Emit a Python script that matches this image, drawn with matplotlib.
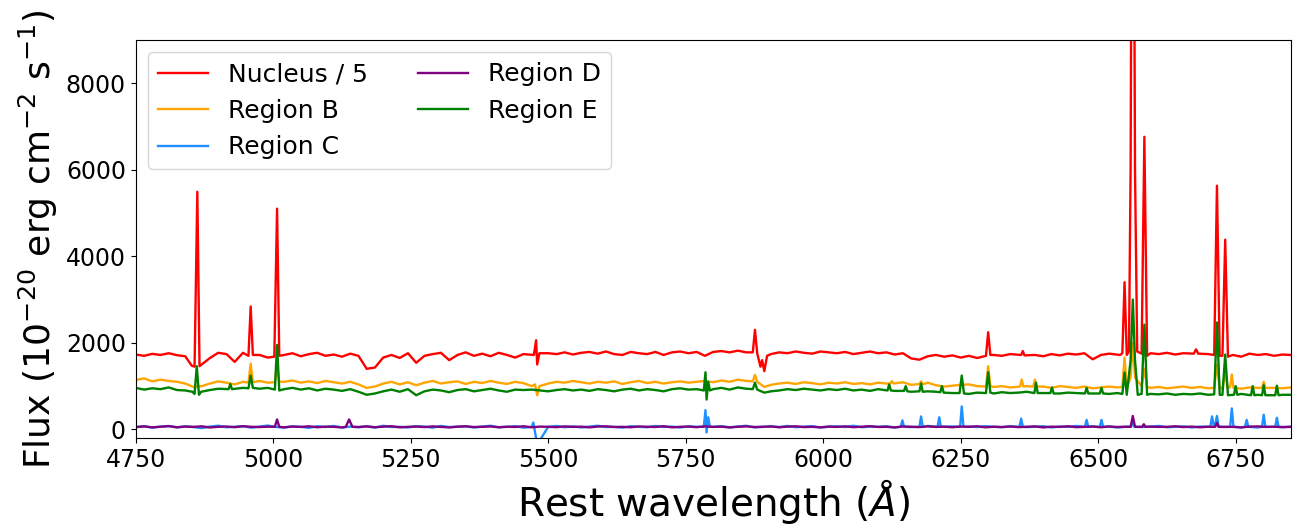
import numpy as np
import matplotlib
matplotlib.use("Agg")
import matplotlib.pyplot as plt

# common wavelength sampling of the continuum (Angstrom)
wave_grid = np.arange(4750, 6851, 15)

# continuum fluxes, one value per grid point
nucleus_cont = [1730, 1700, 1745, 1720, 1760, 1715, 1690, 1480, 1560, 1650,
                1770, 1740, 1560, 1770, 1720, 1720, 1660, 1700, 1720, 1760,
                1690, 1740, 1770, 1700, 1730, 1680, 1750, 1700, 1400, 1430,
                1660, 1720, 1650, 1760, 1540, 1700, 1740, 1770, 1600, 1720,
                1780, 1700, 1750, 1690, 1770, 1720, 1660, 1740, 1700, 1760,
                1760, 1740, 1780, 1730, 1770, 1790, 1750, 1800, 1740, 1720,
                1790, 1760, 1740, 1790, 1720, 1780, 1800, 1760, 1790, 1700,
                1790, 1810, 1780, 1820, 1780, 1780, 1700, 1740, 1780, 1760,
                1800, 1770, 1750, 1800, 1780, 1760, 1790, 1740, 1770, 1800,
                1760, 1780, 1730, 1760, 1640, 1610, 1690, 1720, 1680, 1710,
                1660, 1700, 1650, 1700, 1720, 1700, 1740, 1720, 1720, 1720,
                1690, 1740, 1710, 1750, 1730, 1760, 1620, 1720, 1750, 1720,
                1720, 1720, 1720, 1760, 1740, 1770, 1730, 1760, 1750, 1790,
                1740, 1720, 1720, 1720, 1680, 1750, 1720, 1740, 1700, 1730,
                1720]
regB_cont = [1140, 1180, 1110, 1150, 1120, 1100, 1060, 980, 1000, 1060,
             1110, 1080, 1040, 1100, 1080, 1120, 1080, 1090, 1100, 1130,
             1080, 1110, 1070, 1120, 1090, 1060, 1100, 1040, 960, 990,
             1060, 1100, 1040, 1090, 1020, 1080, 1120, 1060, 1090, 1110,
             1050, 1100, 1070, 1120, 1080, 1050, 1100, 1070, 1000, 1000,
             1060, 1100, 1080, 1120, 1090, 1060, 1100, 1080, 1110, 1050,
             1090, 1120, 1070, 1100, 1060, 1090, 1110, 1080, 1100, 1120,
             1090, 1130, 1100, 1150, 1120, 1110, 1000, 1030, 1060, 1080,
             1050, 1090, 1070, 1040, 1080, 1060, 1090, 1050, 1070, 1040,
             1080, 1060, 1050, 1090, 1030, 1060, 1080, 1020, 990, 1010,
             1030, 1040, 1000, 1000, 980, 1000, 970, 1010, 1000, 1000,
             990, 960, 1000, 980, 960, 990, 950, 970, 990, 970,
             980, 980, 980, 960, 980, 950, 970, 990, 960, 980,
             950, 960, 960, 960, 940, 970, 960, 970, 960, 950,
             970]
regC_cont = [50, 75, 40, 65, 80, 45, 70, 55, 30, 65,
             85, 50, 60, 75, 40, 65, 90, 55, 45, 70,
             60, 35, 75, 55, 80, 45, 65, 50, 70, 40,
             85, 55, 60, 45, 75, 65, 40, 80, 55, 60,
             70, 45, 65, 85, 50, 60, 75, 40, 65, 60,
             60, 80, 50, 70, 45, 65, 85, 55, 60, 40,
             75, 60, 50, 80, 55, 65, 45, 70, 60, 60,
             60, 75, 50, 65, 85, 45, 60, 70, 55, 80,
             50, 65, 75, 45, 60, 70, 55, 85, 50, 65,
             60, 75, 45, 70, 55, 65, 80, 50, 60, 70,
             45, 65, 55, 75, 60, 50, 70, 85, 55, 60,
             75, 45, 65, 60, 80, 50, 70, 55, 65, 45,
             60, 75, 55, 65, 80, 50, 60, 70, 45, 65,
             75, 55, 60, 80, 50, 70, 45, 65, 85, 55,
             60]
regD_cont = [55, 70, 48, 62, 75, 50, 66, 58, 72, 45,
             60, 68, 52, 74, 60, 55, 63, 70, 48, 66,
             58, 72, 50, 64, 60, 45, 68, 56, 70, 52,
             62, 74, 48, 60, 66, 54, 70, 58, 46, 64,
             72, 55, 60, 68, 50, 62, 57, 73, 49, 65,
             60, 52, 70, 58, 64, 47, 66, 72, 55, 60,
             50, 68, 62, 56, 74, 48, 60, 66, 52, 70,
             58, 64, 45, 62, 70, 56, 60, 68, 50, 64,
             72, 54, 60, 48, 66, 58, 70, 52, 62, 74,
             56, 60, 46, 68, 62, 54, 70, 58, 64, 50,
             66, 60, 72, 48, 62, 56, 68, 54, 60, 70,
             46, 64, 58, 72, 52, 60, 66, 50, 68, 56,
             62, 70, 48, 64, 58, 60, 72, 54, 66, 50,
             62, 68, 56, 60, 46, 64, 70, 58, 62, 52,
             60]
regE_cont = [960, 920, 950, 930, 970, 910, 900, 870, 870, 910,
             940, 960, 930, 960, 950, 940, 960, 920, 930, 960,
             920, 950, 900, 940, 920, 890, 930, 870, 800, 830,
             880, 920, 870, 930, 790, 880, 920, 900, 860, 910,
             930, 880, 910, 940, 900, 870, 920, 910, 920, 900,
             880, 910, 930, 900, 920, 890, 930, 910, 880, 920,
             940, 900, 930, 910, 880, 930, 950, 920, 930, 920,
             930, 960, 920, 970, 940, 930, 860, 880, 900, 930,
             910, 940, 920, 900, 930, 910, 940, 900, 920, 890,
             930, 910, 890, 920, 870, 900, 880, 870, 860, 840,
             850, 820, 850, 840, 830, 860, 840, 850, 870, 850,
             840, 860, 830, 850, 840, 850, 830, 840, 820, 840,
             820, 820, 820, 820, 810, 830, 800, 820, 810, 830,
             800, 800, 800, 800, 820, 790, 800, 790, 800, 800,
             800]

# emission lines / spikes (wavelength, flux)
nucleus_line_wave = [4852, 4857, 4862, 4866, 4955, 4959, 4963, 5002, 5007, 5011,
                     5474, 5478, 5480, 5484, 5872, 5876, 5880, 5886, 5889, 5893, 5898,
                     6296, 6300, 6304, 6360, 6363, 6366,
                     6540, 6544, 6548, 6552, 6556, 6559, 6563, 6567, 6571, 6579, 6584, 6589,
                     6674, 6678, 6682, 6711, 6716, 6721, 6726, 6731, 6736]
nucleus_line_flux = [1470, 1450, 5490, 1460, 1700, 2840, 1720, 1680, 5100, 1700,
                     1720, 2060, 1500, 1760, 1780, 2300, 1760, 1450, 1600, 1345, 1700,
                     1700, 2245, 1720, 1720, 1810, 1710,
                     1720, 1760, 3400, 1720, 1800, 6000, 20000, 6000, 1800, 1750, 6760, 1700,
                     1750, 1850, 1750, 1720, 5630, 1700, 1700, 4383, 1680]
regB_line_wave = [4955, 4959, 4963, 5003, 5007, 5011, 5476, 5480, 5484,
                  5872, 5876, 5880, 5893, 6122, 6125, 6128, 6175, 6178, 6181,
                  6296, 6300, 6304, 6358, 6361, 6364, 6382, 6385, 6388,
                  6544, 6548, 6552, 6559, 6563, 6567, 6579, 6584, 6589,
                  6711, 6716, 6721, 6726, 6731, 6736, 6740, 6743, 6746,
                  6798, 6801, 6804]
regB_line_flux = [1080, 1520, 1090, 1090, 1500, 1100, 1040, 790, 1000,
                  1110, 1260, 1100, 980, 1060, 1115, 1060, 1050, 1110, 1040,
                  990, 1460, 1000, 990, 1150, 990, 990, 1150, 990,
                  980, 1660, 960, 1200, 2000, 1200, 1000, 1400, 980,
                  960, 1500, 950, 950, 1300, 950, 980, 1270, 960,
                  960, 1100, 960]
regC_line_wave = [5470, 5473, 5480, 5500, 5783, 5786, 5788, 5791, 5794,
                  6141, 6144, 6147, 6175, 6178, 6181, 6208, 6211, 6214,
                  6249, 6252, 6255, 6357, 6360, 6363, 6476, 6479, 6482,
                  6503, 6506, 6509, 6560, 6563, 6566,
                  6704, 6707, 6710, 6713, 6716, 6719, 6740, 6743, 6746,
                  6767, 6770, 6773, 6798, 6801, 6804, 6822, 6825, 6828]
regC_line_flux = [60, 160, -350, 60, 60, 445, -70, 280, 60,
                  60, 210, 60, 60, 300, 60, 60, 280, 60,
                  60, 530, 60, 60, 250, 60, 60, 220, 60,
                  60, 220, 60, 60, 180, 60,
                  60, 300, 100, 120, 310, 60, 60, 485, 60,
                  60, 220, 60, 60, 340, 60, 60, 270, 60]
regD_line_wave = [5003, 5007, 5011, 5132, 5138, 5144, 6559, 6563, 6567,
                  6580, 6583, 6586, 6713, 6716, 6719]
regD_line_flux = [60, 230, 60, 60, 230, 60, 60, 310, 60,
                  60, 120, 60, 60, 150, 60]
regE_line_wave = [4853, 4857, 4861, 4865, 4869, 4919, 4922, 4925, 4955, 4959, 4963,
                  5003, 5007, 5011, 5783, 5786, 5788, 5791, 5794, 5872, 5876, 5880, 5893,
                  6117, 6120, 6123, 6147, 6150, 6153, 6175, 6178, 6181, 6213, 6216, 6219,
                  6248, 6252, 6256, 6296, 6300, 6304, 6384, 6387, 6390, 6413, 6416, 6419,
                  6476, 6479, 6482, 6503, 6506, 6509,
                  6544, 6548, 6552, 6559, 6563, 6567, 6572, 6579, 6584, 6589,
                  6711, 6716, 6721, 6726, 6731, 6736, 6747, 6750, 6753,
                  6778, 6781, 6784, 6798, 6801, 6804, 6822, 6825, 6828]
regE_line_flux = [870, 820, 1460, 800, 870, 930, 1050, 930, 950, 1245, 960,
                  920, 1950, 900, 900, 1320, 690, 1100, 900, 930, 1080, 920, 850,
                  900, 1040, 900, 890, 1000, 880, 880, 1060, 870, 860, 1000, 850,
                  840, 1245, 830, 840, 1320, 850, 840, 1080, 840, 840, 970, 830,
                  830, 960, 830, 830, 960, 830,
                  820, 1315, 800, 1600, 3000, 1600, 800, 820, 2420, 800,
                  810, 2470, 800, 800, 1730, 790, 800, 1000, 800,
                  790, 1000, 790, 790, 1020, 790, 790, 1010, 790]

labels = ['Nucleus / 5', 'Region B', 'Region C', 'Region D', 'Region E']
colors = ['red', 'orange', 'dodgerblue', 'purple', 'green']


def build(cont, lw, lf):
    # continuum points too close to a line point are replaced by the line
    lw = np.array(lw, dtype=float)
    keep = np.array([np.min(np.abs(lw - w)) >= 6 for w in wave_grid])
    w = np.concatenate([wave_grid[keep], lw])
    f = np.concatenate([np.array(cont, dtype=float)[keep], lf])
    order = np.argsort(w, kind='stable')
    return w[order], f[order]


spectra = [build(nucleus_cont, nucleus_line_wave, nucleus_line_flux),
           build(regB_cont, regB_line_wave, regB_line_flux),
           build(regC_cont, regC_line_wave, regC_line_flux),
           build(regD_cont, regD_line_wave, regD_line_flux),
           build(regE_cont, regE_line_wave, regE_line_flux)]

fig, ax = plt.subplots(figsize=(13.05, 5.31), dpi=100)
fig.subplots_adjust(left=0.104, right=0.989, bottom=0.175, top=0.925)

for (w, f), lab, col in zip(spectra, labels, colors):
    ax.plot(w, f, color=col, lw=1.7, label=lab)

ax.set_xlim(4750, 6850)
ax.set_ylim(-200, 9000)
ax.set_xticks(np.arange(4750, 6751, 250))
ax.set_yticks([0, 2000, 4000, 6000, 8000])
ax.tick_params(labelsize=17)
ax.set_xlabel(r'Rest wavelength ($\AA$)', fontsize=28)
ax.set_ylabel(r'Flux (10$^{-20}$ erg cm$^{-2}$ s$^{-1}$)', fontsize=26)
ax.legend(loc='upper left', ncol=2, fontsize=18)

plt.savefig('out.png', dpi=100)
